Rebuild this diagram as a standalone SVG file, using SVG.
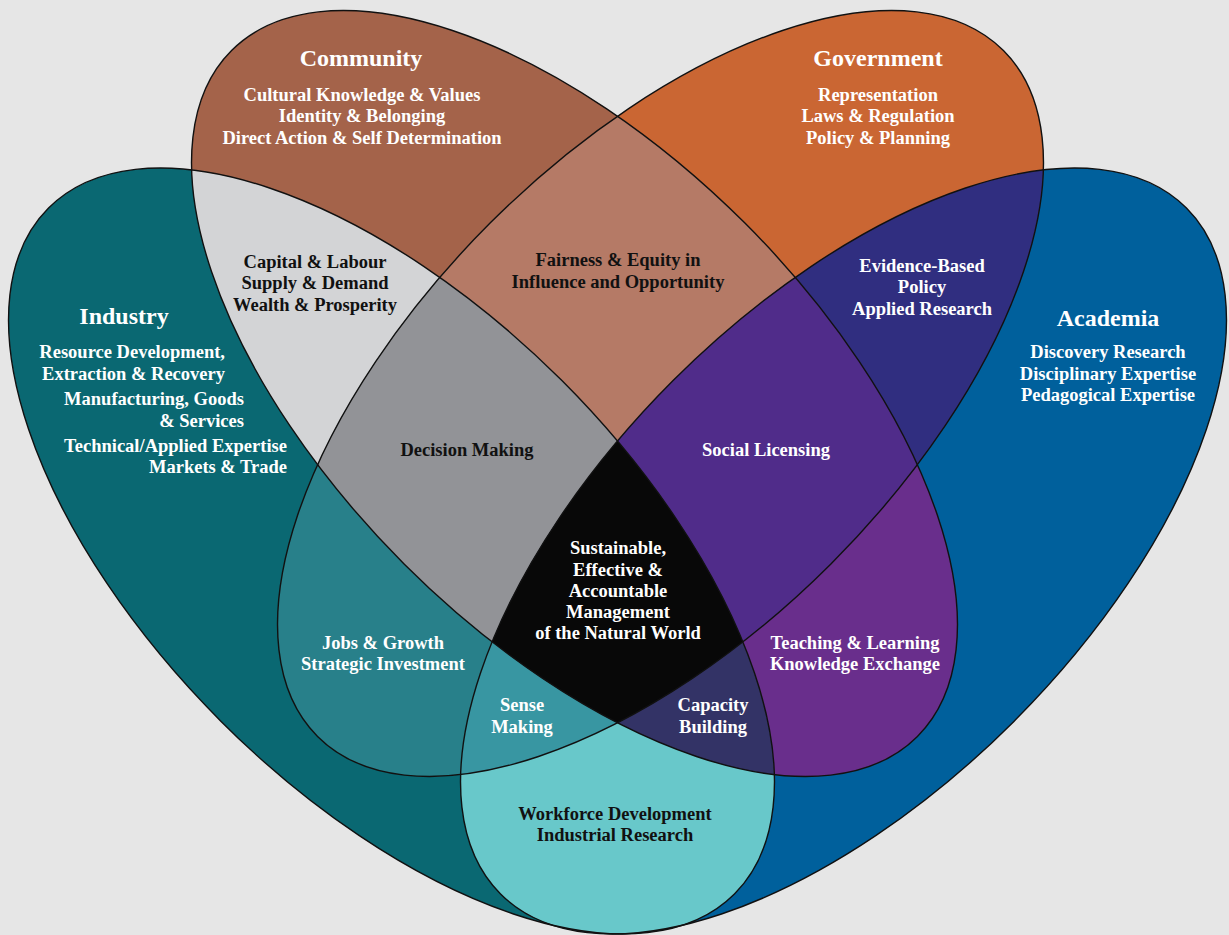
<svg xmlns="http://www.w3.org/2000/svg" xmlns:xlink="http://www.w3.org/1999/xlink" width="1229" height="935" viewBox="0 0 1229 935">
  <style>
    .lbl { font-family: "Liberation Serif", "Times New Roman", serif; font-weight: bold; font-size: 18.5px; text-anchor: middle; }
    .ttl { font-size: 24px; }
    .end { text-anchor: end; }
    .w { fill: #ffffff; }
    .k { fill: #111111; }
    .outline { fill: none; stroke: #111111; stroke-width: 1.4; }
  </style>
  <defs>
    <!-- four congruent ellipses, tilted ±45° -->
    <ellipse id="eI" cx="391.5" cy="551" rx="485" ry="241" transform="rotate(45 391.5 551)"/>
    <ellipse id="eA" cx="843.5" cy="551" rx="485" ry="241" transform="rotate(-45 843.5 551)"/>
    <ellipse id="eC" cx="574.5" cy="393.5" rx="485" ry="241" transform="rotate(45 574.5 393.5)"/>
    <ellipse id="eG" cx="660.5" cy="393.5" rx="485" ry="241" transform="rotate(-45 660.5 393.5)"/>
    <clipPath id="cI"><ellipse cx="391.5" cy="551" rx="485" ry="241" transform="rotate(45 391.5 551)"/></clipPath>
    <clipPath id="cA"><ellipse cx="843.5" cy="551" rx="485" ry="241" transform="rotate(-45 843.5 551)"/></clipPath>
    <clipPath id="cC"><ellipse cx="574.5" cy="393.5" rx="485" ry="241" transform="rotate(45 574.5 393.5)"/></clipPath>
    <clipPath id="cG"><ellipse cx="660.5" cy="393.5" rx="485" ry="241" transform="rotate(-45 660.5 393.5)"/></clipPath>
    <rect id="full" x="0" y="0" width="1229" height="935"/>
  </defs>

  <rect x="0" y="0" width="1229" height="935" fill="#e6e6e6"/>

  <!-- single sets -->
  <g id="industry">
    <use xlink:href="#eI" fill="#0a6872"/>
  </g>
  <g id="academia">
    <use xlink:href="#eA" fill="#00609c"/>
  </g>
  <g id="community">
    <use xlink:href="#eC" fill="#a4634a"/>
  </g>
  <g id="government">
    <use xlink:href="#eG" fill="#ca6633"/>
  </g>

  <!-- pairwise overlaps -->
  <g id="fairness-equity" clip-path="url(#cC)"><g clip-path="url(#cG)"><use xlink:href="#full" fill="#b57a66"/></g></g>
  <g id="capital-labour" clip-path="url(#cI)"><g clip-path="url(#cC)"><use xlink:href="#full" fill="#d3d4d6"/></g></g>
  <g id="evidence-based" clip-path="url(#cG)"><g clip-path="url(#cA)"><use xlink:href="#full" fill="#302e80"/></g></g>
  <g id="jobs-growth" clip-path="url(#cI)"><g clip-path="url(#cG)"><use xlink:href="#full" fill="#28808a"/></g></g>
  <g id="teaching-learning" clip-path="url(#cC)"><g clip-path="url(#cA)"><use xlink:href="#full" fill="#692e8c"/></g></g>
  <g id="workforce" clip-path="url(#cI)"><g clip-path="url(#cA)"><use xlink:href="#full" fill="#68c8ca"/></g></g>

  <!-- triple overlaps -->
  <g id="decision-making" clip-path="url(#cI)"><g clip-path="url(#cC)"><g clip-path="url(#cG)"><use xlink:href="#full" fill="#929397"/></g></g></g>
  <g id="social-licensing" clip-path="url(#cA)"><g clip-path="url(#cC)"><g clip-path="url(#cG)"><use xlink:href="#full" fill="#502c8a"/></g></g></g>
  <g id="sense-making" clip-path="url(#cI)"><g clip-path="url(#cA)"><g clip-path="url(#cG)"><use xlink:href="#full" fill="#3896a2"/></g></g></g>
  <g id="capacity-building" clip-path="url(#cI)"><g clip-path="url(#cA)"><g clip-path="url(#cC)"><use xlink:href="#full" fill="#333366"/></g></g></g>

  <!-- centre: all four -->
  <g id="sustainable-management" clip-path="url(#cI)"><g clip-path="url(#cA)"><g clip-path="url(#cC)"><g clip-path="url(#cG)"><use xlink:href="#full" fill="#080808"/></g></g></g></g>

  <!-- outlines -->
  <g id="outlines" class="outline">
    <use xlink:href="#eI"/>
    <use xlink:href="#eA"/>
    <use xlink:href="#eC"/>
    <use xlink:href="#eG"/>
  </g>

  <!-- labels -->
  <g id="labels" class="lbl">
    <g id="industry-text" class="w">
      <text x="124" y="324" class="ttl">Industry</text>
      <text x="225" y="358" class="end">Resource Development,</text>
      <text x="225" y="380" class="end">Extraction &amp; Recovery</text>
      <text x="244" y="405" class="end">Manufacturing, Goods</text>
      <text x="244" y="427" class="end">&amp; Services</text>
      <text x="287" y="452" class="end">Technical/Applied Expertise</text>
      <text x="287" y="473" class="end">Markets &amp; Trade</text>
    </g>
    <g id="academia-text" class="w">
      <text x="1108" y="326" class="ttl">Academia</text>
      <text x="1108" y="358">Discovery Research</text>
      <text x="1108" y="380">Disciplinary Expertise</text>
      <text x="1108" y="401">Pedagogical Expertise</text>
    </g>
    <g id="community-text" class="w">
      <text x="361" y="66" class="ttl">Community</text>
      <text x="362" y="101">Cultural Knowledge &amp; Values</text>
      <text x="362" y="122">Identity &amp; Belonging</text>
      <text x="362" y="144">Direct Action &amp; Self Determination</text>
    </g>
    <g id="government-text" class="w">
      <text x="878" y="66" class="ttl">Government</text>
      <text x="878" y="101">Representation</text>
      <text x="878" y="122">Laws &amp; Regulation</text>
      <text x="878" y="144">Policy &amp; Planning</text>
    </g>
    <g id="capital-labour-text" class="k">
      <text x="315" y="268">Capital &amp; Labour</text>
      <text x="315" y="289">Supply &amp; Demand</text>
      <text x="315" y="311">Wealth &amp; Prosperity</text>
    </g>
    <g id="fairness-text" class="k">
      <text x="618" y="266">Fairness &amp; Equity in</text>
      <text x="618" y="288">Influence and Opportunity</text>
    </g>
    <g id="evidence-text" class="w">
      <text x="922" y="272">Evidence-Based</text>
      <text x="922" y="293">Policy</text>
      <text x="922" y="315">Applied Research</text>
    </g>
    <text x="467" y="456" class="k">Decision Making</text>
    <text x="766" y="456" class="w">Social Licensing</text>
    <g id="centre-text" class="w">
      <text x="618" y="554">Sustainable,</text>
      <text x="618" y="576">Effective &amp;</text>
      <text x="618" y="597">Accountable</text>
      <text x="618" y="618">Management</text>
      <text x="618" y="639">of the Natural World</text>
    </g>
    <g id="jobs-text" class="w">
      <text x="383" y="649">Jobs &amp; Growth</text>
      <text x="383" y="670">Strategic Investment</text>
    </g>
    <g id="teaching-text" class="w">
      <text x="855" y="649">Teaching &amp; Learning</text>
      <text x="855" y="670">Knowledge Exchange</text>
    </g>
    <g id="sense-text" class="w">
      <text x="522" y="711">Sense</text>
      <text x="522" y="733">Making</text>
    </g>
    <g id="capacity-text" class="w">
      <text x="713" y="711">Capacity</text>
      <text x="713" y="733">Building</text>
    </g>
    <g id="workforce-text" class="k">
      <text x="615" y="820">Workforce Development</text>
      <text x="615" y="841">Industrial Research</text>
    </g>
  </g>
</svg>
